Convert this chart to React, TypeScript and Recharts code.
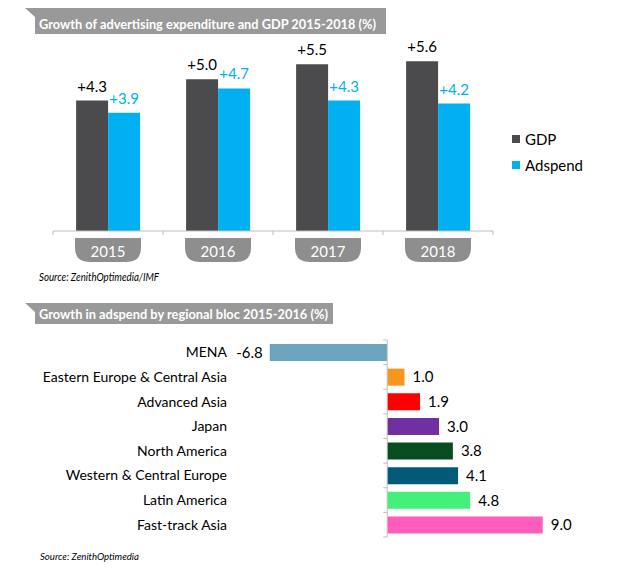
import React from "react";
import {
  BarChart,
  Bar,
  XAxis,
  YAxis,
  Legend,
  LabelList,
  Cell,
  ReferenceLine,
} from "recharts";

// growth of adspend vs GDP, per year
const years = ["2015", "2016", "2017", "2018"];
const gdpGrowth = [4.3, 5.0, 5.5, 5.6];
const adspendGrowth = [3.9, 4.7, 4.3, 4.2];
const seriesNames = ["GDP", "Adspend"];

// growth by regional bloc 2015-2016
const regions = [
  "MENA",
  "Eastern Europe & Central Asia",
  "Advanced Asia",
  "Japan",
  "North America",
  "Western & Central Europe",
  "Latin America",
  "Fast-track Asia",
];
const regionGrowth = [-6.8, 1.0, 1.9, 3.0, 3.8, 4.1, 4.8, 9.0];
const regionColors = [
  "#6ba5bd",
  "#f7961e",
  "#ff0000",
  "#7030a0",
  "#074d20",
  "#025a78",
  "#42f07a",
  "#ff5cbb",
];

const FONT = "Lato, 'Open Sans', sans-serif";
const GDP_COLOR = "#4b4b4d";
const ADSPEND_COLOR = "#00b0f0";
const AXIS_COLOR = "#bfbfbf";

const TOP_PLOT_W = 440;

const topData = years.map((year, i) => ({
  year,
  gdp: gdpGrowth[i],
  adspend: adspendGrowth[i],
}));

const regionData = regions.map((region, i) => ({
  region,
  value: regionGrowth[i],
}));

function YearTick(props: any) {
  const { x, y, payload, index } = props;
  const band = TOP_PLOT_W / years.length;
  const top = y + 7;
  const hw = 33;
  const pill = `M ${x - hw} ${top} H ${x + hw} V ${top + 10} Q ${x + hw} ${top + 24} ${x + hw - 15} ${top + 24} H ${x - hw + 15} Q ${x - hw} ${top + 24} ${x - hw} ${top + 10} Z`;
  return (
    <g>
      <line x1={x - band / 2} y1={y} x2={x - band / 2} y2={y + 4} stroke={AXIS_COLOR} />
      {index === years.length - 1 && (
        <line x1={x + band / 2} y1={y} x2={x + band / 2} y2={y + 4} stroke={AXIS_COLOR} />
      )}
      <path d={pill} fill="#8e8e8e" />
      <text
        x={x}
        y={top + 13}
        textAnchor="middle"
        dominantBaseline="central"
        fill="#fff"
        fontSize={15}
        fontFamily={FONT}
      >
        {payload.value}
      </text>
    </g>
  );
}

function topLabel(color: string) {
  return (props: any) => {
    const { x, y, width, value } = props;
    return (
      <text
        x={x + width / 2}
        y={y - 9}
        textAnchor="middle"
        fill={color}
        fontSize={15}
        fontFamily={FONT}
      >
        {"+" + Number(value).toFixed(1)}
      </text>
    );
  };
}

function TopLegend(props: any) {
  const items = [...(props.payload || [])].sort(
    (a: any, b: any) => seriesNames.indexOf(a.value) - seriesNames.indexOf(b.value)
  );
  return (
    <div style={{ fontFamily: FONT, fontSize: 15, color: "#000" }}>
      {items.map((p: any) => (
        <div
          key={p.value}
          style={{ display: "flex", alignItems: "center", height: 26 }}
        >
          <span
            style={{
              width: 8,
              height: 8,
              background: p.color,
              marginRight: 5,
              display: "inline-block",
            }}
          />
          {p.value}
        </div>
      ))}
    </div>
  );
}

function RegionLabel(props: any) {
  const { x, y, width, height, value } = props;
  const left = Math.min(x, x + width);
  const right = Math.max(x, x + width);
  const neg = value < 0;
  return (
    <text
      x={neg ? left - 7 : right + 8}
      y={y + height / 2}
      dy="0.35em"
      textAnchor={neg ? "end" : "start"}
      fill="#000"
      fontSize={15}
      fontFamily={FONT}
    >
      {Number(value).toFixed(1)}
    </text>
  );
}

function ZeroAxis(props: any) {
  const { x1, y1, y2 } = props;
  const top = Math.min(y1, y2);
  const bottom = Math.max(y1, y2);
  const step = (bottom - top) / regions.length;
  return (
    <g>
      <line x1={x1} y1={top} x2={x1} y2={bottom} stroke={AXIS_COLOR} />
      {Array.from({ length: regions.length + 1 }, (_, i) => (
        <line
          key={i}
          x1={x1 - 4}
          y1={top + i * step}
          x2={x1}
          y2={top + i * step}
          stroke={AXIS_COLOR}
        />
      ))}
    </g>
  );
}

function Banner({
  y,
  h,
  w,
  textW,
  text,
}: {
  y: number;
  h: number;
  w: number;
  textW: number;
  text: string;
}) {
  return (
    <g>
      <polygon
        points={`25,${y} ${w},${y} ${w},${y + h} 35,${y + h} 35,${y + 9}`}
        fill="#999999"
      />
      <text
        x={39}
        y={y + h - 5}
        fill="#fff"
        fontSize={14}
        fontWeight="bold"
        fontFamily={FONT}
        textLength={textW}
        lengthAdjust="spacingAndGlyphs"
      >
        {text}
      </text>
    </g>
  );
}

export default function App() {
  return (
    <div
      style={{
        position: "absolute",
        left: 0,
        top: 0,
        width: 620,
        height: 582,
        background: "#fff",
        fontFamily: FONT,
      }}
    >
      <div style={{ position: "absolute", left: 0, top: 0 }}>
        <BarChart
          width={620}
          height={300}
          data={topData}
          margin={{ top: 49, right: 127, bottom: 0, left: 53 }}
          barCategoryGap="21%"
          barGap={0}
        >
          <XAxis
            dataKey="year"
            height={69}
            interval={0}
            tickLine={false}
            tickSize={0}
            tickMargin={0}
            axisLine={{ stroke: AXIS_COLOR }}
            tick={<YearTick />}
          />
          <YAxis hide width={0} domain={[0, 6]} />
          <Legend
            layout="vertical"
            align="center"
            verticalAlign="middle"
            wrapperStyle={{ left: 512, top: 126, width: 100 }}
            content={<TopLegend />}
          />
          <Bar dataKey="gdp" name="GDP" fill={GDP_COLOR} isAnimationActive={false}>
            <LabelList dataKey="gdp" content={topLabel("#000")} />
          </Bar>
          <Bar
            dataKey="adspend"
            name="Adspend"
            fill={ADSPEND_COLOR}
            isAnimationActive={false}
          >
            <LabelList dataKey="adspend" content={topLabel(ADSPEND_COLOR)} />
          </Bar>
        </BarChart>
      </div>

      <div style={{ position: "absolute", left: 0, top: 330 }}>
        <BarChart
          width={620}
          height={230}
          data={regionData}
          layout="vertical"
          margin={{ top: 10, right: 60, bottom: 23, left: 49 }}
          barCategoryGap={4}
        >
          <XAxis type="number" hide domain={[-8, 10]} />
          <YAxis
            type="category"
            dataKey="region"
            width={200}
            interval={0}
            axisLine={false}
            tickLine={false}
            tickSize={0}
            tickMargin={22}
            tick={{ fontSize: 14, fill: "#000", fontFamily: FONT }}
          />
          <Bar dataKey="value" isAnimationActive={false}>
            {regionData.map((d, i) => (
              <Cell key={d.region} fill={regionColors[i]} />
            ))}
            <LabelList dataKey="value" content={RegionLabel} />
          </Bar>
          <ReferenceLine x={0} stroke={AXIS_COLOR} shape={ZeroAxis} />
        </BarChart>
      </div>

      <svg
        width={620}
        height={582}
        style={{ position: "absolute", left: 0, top: 0, pointerEvents: "none" }}
      >
        <Banner
          y={8}
          h={26}
          w={386}
          textW={337}
          text="Growth of advertising expenditure and GDP 2015-2018 (%)"
        />
        <Banner
          y={303}
          h={21}
          w={333}
          textW={289}
          text="Growth in adspend by regional bloc 2015-2016 (%)"
        />
        <text
          x={39}
          y={281}
          fontSize={10.5}
          fontStyle="italic"
          fill="#000"
          fontFamily={FONT}
          textLength={120}
          lengthAdjust="spacingAndGlyphs"
        >
          Source: ZenithOptimedia/IMF
        </text>
        <text
          x={40}
          y={560}
          fontSize={9.5}
          fontStyle="italic"
          fill="#000"
          fontFamily={FONT}
          textLength={99}
          lengthAdjust="spacingAndGlyphs"
        >
          Source: ZenithOptimedia
        </text>
      </svg>
    </div>
  );
}
